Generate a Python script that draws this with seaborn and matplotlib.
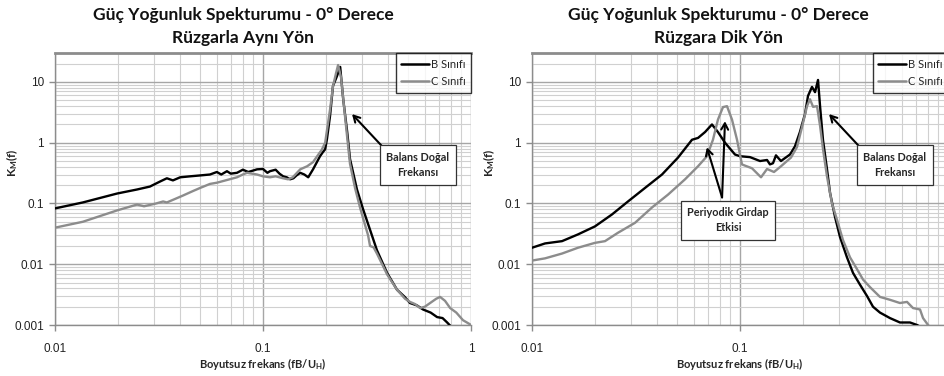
import numpy as np
import pandas as pd
import matplotlib
matplotlib.use("Agg")
import matplotlib.pyplot as plt
import seaborn as sns
from matplotlib.lines import Line2D
from matplotlib.ticker import FixedLocator, FixedFormatter, NullFormatter

# ---- Along-wind spectrum (Rüzgarla Aynı Yön) ----
along_b_f = [0.01, 0.0136, 0.0199, 0.0248, 0.0286, 0.032, 0.0345, 0.0369, 0.040, 0.0446,
             0.050, 0.0556, 0.060, 0.063, 0.0671, 0.070, 0.075, 0.080, 0.085, 0.090,
             0.0936, 0.100, 0.105, 0.108, 0.115, 0.120, 0.125, 0.130, 0.135, 0.140,
             0.145, 0.151, 0.158, 0.165, 0.174, 0.188, 0.194, 0.199, 0.203, 0.210,
             0.217, 0.227, 0.235, 0.243, 0.254, 0.262, 0.283, 0.303, 0.327, 0.353,
             0.395, 0.441, 0.48, 0.509, 0.55, 0.588, 0.64, 0.687, 0.73, 0.768, 0.80, 0.85]
along_b_k = [0.083, 0.104, 0.146, 0.17, 0.19, 0.23, 0.26, 0.24, 0.27, 0.28,
             0.29, 0.30, 0.33, 0.30, 0.34, 0.31, 0.32, 0.36, 0.33, 0.35,
             0.365, 0.37, 0.32, 0.34, 0.36, 0.31, 0.28, 0.27, 0.25, 0.26,
             0.29, 0.32, 0.30, 0.27, 0.365, 0.60, 0.70, 0.78, 1.15, 2.75,
             8.6, 12.6, 17.7, 5.2, 1.5, 0.54, 0.17, 0.08, 0.037, 0.017,
             0.0072, 0.0038, 0.0029, 0.0023, 0.0021, 0.0018, 0.0016, 0.00135, 0.0013, 0.0011, 0.00095, 0.0008]

along_c_f = [0.01, 0.0136, 0.0199, 0.0248, 0.0268, 0.0306, 0.0331, 0.0345, 0.0412, 0.0460,
             0.0498, 0.0556, 0.0601, 0.066, 0.075, 0.080, 0.0838, 0.0936, 0.100, 0.108,
             0.115, 0.125, 0.132, 0.139, 0.151, 0.163, 0.174, 0.188, 0.191, 0.199,
             0.203, 0.210, 0.217, 0.2245, 0.2296, 0.2372, 0.2451, 0.2535, 0.262, 0.277,
             0.293, 0.309, 0.320, 0.327, 0.340, 0.353, 0.395, 0.441, 0.482, 0.509,
             0.54, 0.569, 0.600, 0.636, 0.68, 0.71, 0.75, 0.794, 0.85, 0.915, 0.978, 1.0]
along_c_k = [0.040, 0.050, 0.077, 0.096, 0.090, 0.10, 0.108, 0.104, 0.135, 0.16,
             0.18, 0.21, 0.22, 0.24, 0.27, 0.30, 0.32, 0.30, 0.28, 0.27,
             0.28, 0.26, 0.25, 0.27, 0.365, 0.41, 0.48, 0.70, 0.75, 1.0,
             1.6, 3.5, 8.5, 14.0, 19.0, 12.0, 4.0, 1.3, 0.45, 0.18,
             0.085, 0.045, 0.030, 0.020, 0.019, 0.015, 0.0068, 0.0038, 0.0027, 0.0024,
             0.0022, 0.0019, 0.0020, 0.0023, 0.0027, 0.0029, 0.0025, 0.0019, 0.0016, 0.0012, 0.00105, 0.0010]

# ---- Across-wind spectrum (Rüzgara Dik Yön) ----
across_b_f = [0.01, 0.01155, 0.01394, 0.01664, 0.02008, 0.02424, 0.02894, 0.03492, 0.04217, 0.05035,
              0.05878, 0.06284, 0.06792, 0.07333, 0.07834, 0.08472, 0.09461, 0.1, 0.1117, 0.1248,
              0.1349, 0.1393, 0.1441, 0.1489, 0.1574, 0.1610, 0.1739, 0.1837, 0.1941, 0.2053,
              0.2123, 0.2219, 0.2295, 0.2372, 0.2426, 0.2507, 0.2619, 0.2709, 0.2863, 0.3026,
              0.3268, 0.3494, 0.3776, 0.4080, 0.4359, 0.4710, 0.5260, 0.5875, 0.6568, 0.7098, 0.75]
across_b_k = [0.0187, 0.022, 0.024, 0.031, 0.042, 0.066, 0.108, 0.18, 0.30, 0.57,
              1.12, 1.2, 1.5, 2.0, 1.5, 1.0, 0.64, 0.60, 0.58, 0.50,
              0.52, 0.44, 0.46, 0.62, 0.50, 0.53, 0.64, 0.87, 1.5, 2.96,
              5.9, 8.3, 6.8, 10.8, 4.0, 1.1, 0.37, 0.15, 0.06, 0.028,
              0.013, 0.0072, 0.0046, 0.0030, 0.0020, 0.0016, 0.0013, 0.0011, 0.0011, 0.0010, 0.0009]

across_c_f = [0.01, 0.01155, 0.01394, 0.01664, 0.02008, 0.02244, 0.02591, 0.03126, 0.03775, 0.04508,
              0.05441, 0.06284, 0.06937, 0.07413, 0.07834, 0.08283, 0.0866, 0.09153, 0.09674, 0.1022,
              0.1057, 0.1142, 0.1262, 0.1349, 0.1457, 0.1574, 0.1758, 0.1879, 0.1986, 0.2100,
              0.2170, 0.2245, 0.2346, 0.2426, 0.2507, 0.2619, 0.2769, 0.2926, 0.3127, 0.3380,
              0.3652, 0.3903, 0.4217, 0.4710, 0.5260, 0.5875, 0.6353, 0.6790, 0.7336, 0.7585, 0.8019, 0.85]
across_c_k = [0.0115, 0.0125, 0.015, 0.0187, 0.0225, 0.024, 0.033, 0.048, 0.086, 0.14,
              0.25, 0.41, 0.60, 1.12, 2.4, 3.86, 4.0, 2.4, 1.12, 0.44,
              0.42, 0.38, 0.27, 0.37, 0.33, 0.41, 0.57, 0.85, 1.8, 4.0,
              5.2, 3.9, 4.0, 1.9, 0.78, 0.28, 0.10, 0.054, 0.025, 0.013,
              0.0083, 0.0056, 0.0042, 0.0029, 0.0026, 0.0023, 0.0024, 0.0019, 0.0018, 0.0013, 0.0010, 0.0008]

series_names = ["B Sınıfı", "C Sınıfı"]
series_colors = {"B Sınıfı": "#000000", "C Sınıfı": "#8c8c8c"}

title_main = "Güç Yoğunluk Spekturumu - 0° Derece"
panel_titles = ["Rüzgarla Aynı Yön", "Rüzgara Dik Yön"]
x_ticks = [0.01, 0.1, 1]
x_tick_labels = ["0.01", "0.1", "1"]
y_ticks = [0.001, 0.01, 0.1, 1, 10]
y_tick_labels = ["0.001", "0.01", "0.1", "1", "10"]

sns.set_style("white")
plt.rcParams["font.family"] = ["Lato", "DejaVu Sans"]
plt.rcParams["mathtext.fontset"] = "custom"
plt.rcParams["mathtext.rm"] = "Lato:bold"
plt.rcParams["mathtext.it"] = "Lato:bold"
plt.rcParams["mathtext.bf"] = "Lato:bold"


def frame(b_f, b_k, c_f, c_k):
    return pd.concat([
        pd.DataFrame({"f": b_f, "K": b_k, "Sınıf": series_names[0]}),
        pd.DataFrame({"f": c_f, "K": c_k, "Sınıf": series_names[1]}),
    ], ignore_index=True)


fig = plt.figure(figsize=(9.44, 3.76), dpi=100)
W, H = 944.0, 376.0
ax_left = fig.add_axes([55 / W, 1 - 325 / H, 416 / W, 272 / H])
ax_right = fig.add_axes([532 / W, 1 - 325 / H, 416 / W, 272 / H])

panels = [
    (ax_left, frame(along_b_f, along_b_k, along_c_f, along_c_k), 243, x_tick_labels),
    # the right panel runs past the figure edge, so its last tick label stays blank
    (ax_right, frame(across_b_f, across_b_k, across_c_f, across_c_k), 718, x_tick_labels[:2] + [""]),
]

for idx, (ax, df, title_x, xlabels) in enumerate(panels):
    ax.set_xscale("log")
    ax.set_yscale("log")
    ax.set_xlim(0.01, 1)
    ax.set_ylim(0.001, 30)
    ax.grid(which="major", color="#a6a6a6", lw=1.0, zorder=0)
    ax.grid(which="minor", color="#d0d0d0", lw=0.8, zorder=0)
    ax.set_axisbelow(True)
    sns.lineplot(data=df, x="f", y="K", hue="Sınıf", palette=series_colors,
                 sort=False, estimator=None, lw=1.7, ax=ax, legend=False, zorder=3)
    ax.xaxis.set_major_locator(FixedLocator(x_ticks))
    ax.xaxis.set_major_formatter(FixedFormatter(xlabels))
    ax.yaxis.set_major_locator(FixedLocator(y_ticks))
    ax.yaxis.set_major_formatter(FixedFormatter(y_tick_labels))
    ax.xaxis.set_minor_formatter(NullFormatter())
    ax.yaxis.set_minor_formatter(NullFormatter())
    ax.tick_params(axis="both", which="major", length=4, width=1, color="#8c8c8c",
                   direction="out", left=True, bottom=True)
    ax.tick_params(axis="both", which="minor", length=0)
    ax.tick_params(axis="x", pad=9)
    ax.tick_params(axis="y", pad=4)
    for lab in ax.get_xticklabels() + ax.get_yticklabels():
        lab.set_fontfamily("Liberation Sans")
        lab.set_fontsize(8.5)
        lab.set_color("#222222")
    for side in ["left", "bottom"]:
        ax.spines[side].set_color("#8c8c8c")
        ax.spines[side].set_linewidth(1.0)
    ax.spines["top"].set_color("#8c8c8c")
    ax.spines["top"].set_linewidth(2.0)
    ax.spines["right"].set_visible(False)
    ax.set_xlabel("Boyutsuz frekans (fB/U$_\\mathrm{H}$)", fontsize=8, fontweight="bold",
                  labelpad=1)
    ax.set_ylabel("")

    handles = [Line2D([], [], color=series_colors[n], lw=1.8) for n in series_names]
    leg = ax.legend(handles, series_names, loc="upper right", bbox_to_anchor=(1.0, 1.0),
                    frameon=True, fancybox=False, fontsize=8, handlelength=2.5,
                    handletextpad=0.15, borderpad=0.5, labelspacing=0.6, borderaxespad=0.0)
    leg.get_frame().set_edgecolor("#000000")
    leg.get_frame().set_linewidth(1.0)
    leg.set_zorder(6)

    fig.text(title_x / W, 1 - 15 / H, title_main, ha="center", va="center",
             fontsize=12.5, fontweight="bold", color="#111111")
    fig.text(title_x / W, 1 - 38 / H, panel_titles[idx], ha="center", va="center",
             fontsize=12.5, fontweight="bold", color="#111111")

# Y-axis labels
fig.text(12 / W, 1 - 163 / H, "K$_\\mathrm{M}$(f)", rotation=90, ha="center", va="center",
         fontsize=8.5, fontweight="bold")
fig.text(489 / W, 1 - 163 / H, "K$_\\mathrm{M}$(f)", rotation=90, ha="center", va="center",
         fontsize=8.5, fontweight="bold")

box_style = dict(boxstyle="square,pad=0.6", fc="white", ec="#333333", lw=0.9)
arrow_style = dict(arrowstyle="->,head_length=0.45,head_width=0.25", color="black", lw=1.5,
                   shrinkA=0, shrinkB=0)

for ax in (ax_left, ax_right):
    ax.annotate("", xy=(0.268, 2.96), xytext=(0.378, 0.84), arrowprops=arrow_style, zorder=5)
    ax.text(0.555, 0.43, "Balans Doğal\nFrekansı", ha="center", va="center", fontsize=7.8,
            fontweight="bold", linespacing=1.45, bbox=box_style, zorder=6)

ax_right.annotate("", xy=(0.0693, 0.84), xytext=(0.082, 0.126), arrowprops=arrow_style, zorder=5)
ax_right.annotate("", xy=(0.0847, 2.26), xytext=(0.082, 0.126), arrowprops=arrow_style, zorder=5)
ax_right.text(0.0875, 0.053, "Periyodik Girdap\nEtkisi", ha="center", va="center", fontsize=7.8,
              fontweight="bold", linespacing=1.45, bbox=box_style, zorder=6)

fig.savefig("out.png", dpi=100)
